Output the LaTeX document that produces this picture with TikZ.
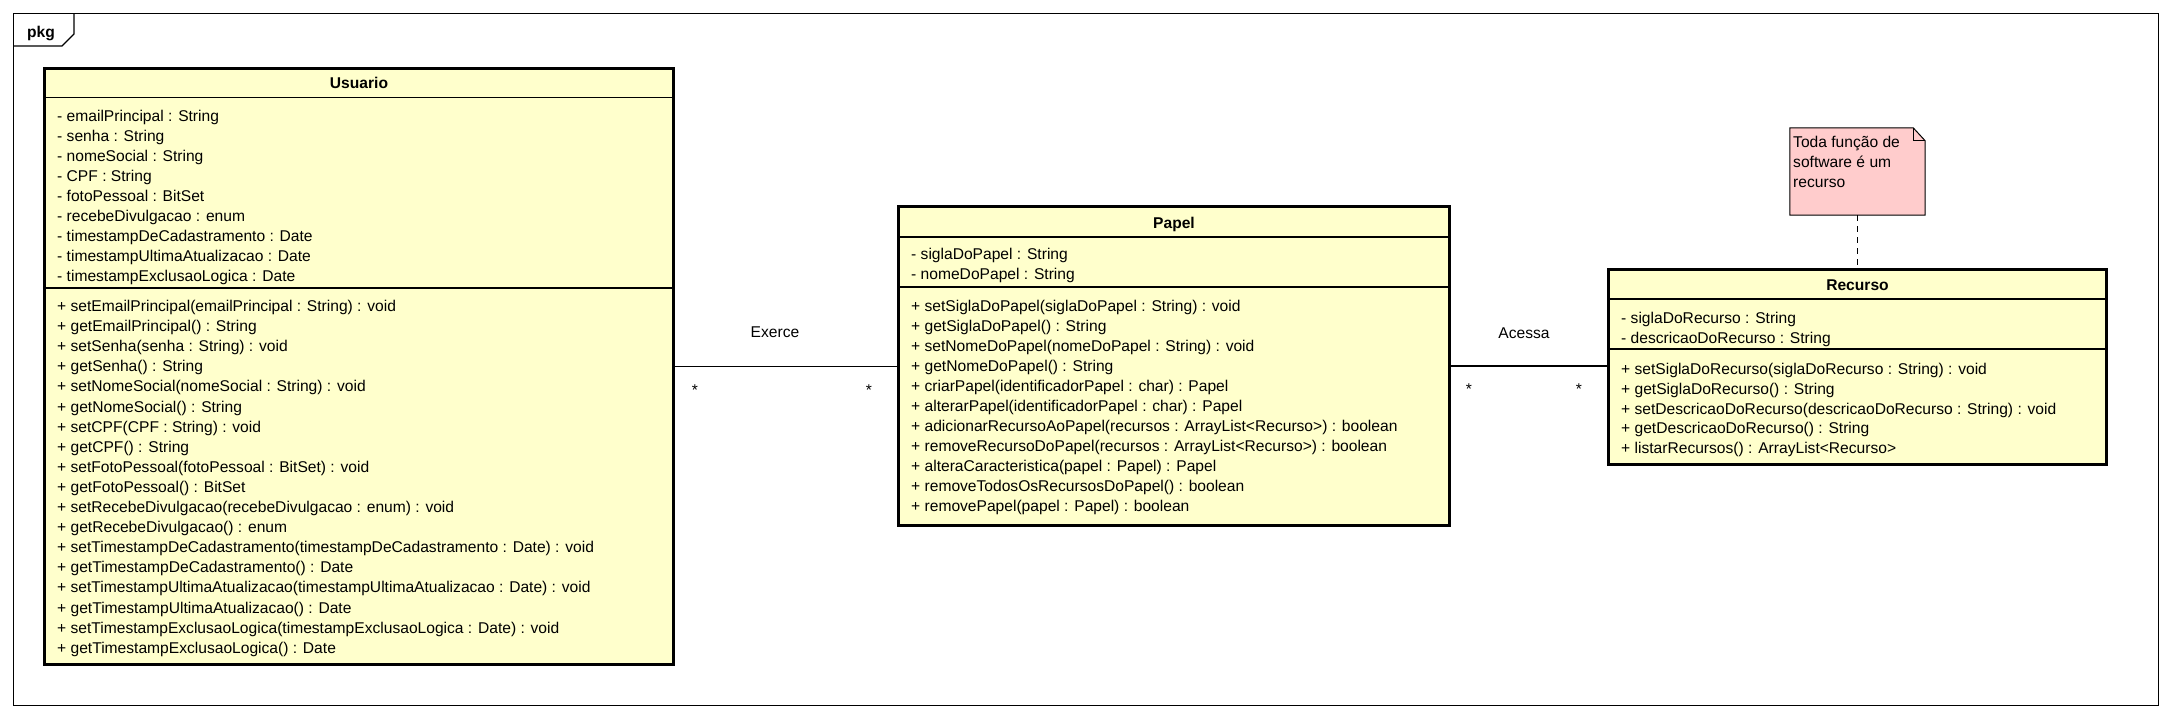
\documentclass[tikz,border=0pt]{standalone}
\usepackage{fontspec}
\setmainfont{Liberation Sans}
\definecolor{classfill}{RGB}{255,255,204}
\definecolor{notefill}{RGB}{255,204,204}
\newcommand\memberfont{\fontsize{15.6}{20}\selectfont}
\newcommand\titlefont{\fontsize{15.6}{20}\selectfont\bfseries}
\tikzset{
  classbox/.style={draw=black, fill=classfill, line width=3pt, inner sep=0pt, rectangle},
  sepline/.style={line width=1.2pt},
  member/.style={anchor=base west, inner sep=0pt, font=\memberfont},
  classtitle/.style={anchor=base, inner sep=0pt, font=\titlefont},
  assoc/.style={line width=1.2pt},
  mult/.style={anchor=center, inner sep=0pt, font=\memberfont},
  framebox/.style={line width=1.2pt},
  notebox/.style={draw=black, fill=notefill, line width=1pt},
  notelink/.style={line width=1.2pt, dash pattern=on 6pt off 5pt},
}
\begin{document}
\begin{tikzpicture}[x=1pt,y=-1pt]
\useasboundingbox (0,0) rectangle (2172,720);
% package frame
\draw[framebox] (13.5,13.5) rectangle (2158.5,705.5);
\draw[framebox] (13.5,46) -- (62,46) -- (74,34) -- (74,13.5);
\node[classtitle] (pkglabel) at (41,37) {pkg};

% ---------- Usuario ----------
\node[classbox, minimum width=629pt, minimum height=596pt] (usuario) at (359,366.5) {};
\draw[sepline] (44.5,97.5) -- (673.5,97.5);
\draw[sepline] (44.5,288) -- (673.5,288);
\node[classtitle] (usuariotitle) at (359,88.5) {Usuario};
\foreach \t [count=\i from 0] in {
  - emailPrincipal : String,
  - senha : String,
  - nomeSocial : String,
  - CPF : String,
  - fotoPessoal : BitSet,
  - recebeDivulgacao : enum,
  - timestampDeCadastramento : Date,
  - timestampUltimaAtualizacao : Date,
  - timestampExclusaoLogica : Date}
  \node[member] (ua\i) at (57,121+20*\i) {\t};
\foreach \t [count=\i from 0] in {
  + setEmailPrincipal(emailPrincipal : String) : void,
  + getEmailPrincipal() : String,
  + setSenha(senha : String) : void,
  + getSenha() : String,
  + setNomeSocial(nomeSocial : String) : void,
  + getNomeSocial() : String,
  + setCPF(CPF : String) : void,
  + getCPF() : String,
  + setFotoPessoal(fotoPessoal : BitSet) : void,
  + getFotoPessoal() : BitSet,
  + setRecebeDivulgacao(recebeDivulgacao : enum) : void,
  + getRecebeDivulgacao() : enum,
  + setTimestampDeCadastramento(timestampDeCadastramento : Date) : void,
  + getTimestampDeCadastramento() : Date,
  + setTimestampUltimaAtualizacao(timestampUltimaAtualizacao : Date) : void,
  + getTimestampUltimaAtualizacao() : Date,
  + setTimestampExclusaoLogica(timestampExclusaoLogica : Date) : void,
  + getTimestampExclusaoLogica() : Date}
  \node[member] (uo\i) at (57,311.5+20.1*\i) {\t};

% ---------- Papel ----------
\node[classbox, minimum width=551pt, minimum height=319pt] (papel) at (1174,366) {};
\draw[sepline] (898.5,237) -- (1449.5,237);
\draw[sepline] (898.5,287) -- (1449.5,287);
\node[classtitle] (papeltitle) at (1174,228) {Papel};
\foreach \t [count=\i from 0] in {
  - siglaDoPapel : String,
  - nomeDoPapel : String}
  \node[member] (pa\i) at (911,259.5+20*\i) {\t};
\foreach \t [count=\i from 0] in {
  + setSiglaDoPapel(siglaDoPapel : String) : void,
  + getSiglaDoPapel() : String,
  + setNomeDoPapel(nomeDoPapel : String) : void,
  + getNomeDoPapel() : String,
  + criarPapel(identificadorPapel : char) : Papel,
  + alterarPapel(identificadorPapel : char) : Papel,
  + adicionarRecursoAoPapel(recursos : ArrayList<Recurso>) : boolean,
  + removeRecursoDoPapel(recursos : ArrayList<Recurso>) : boolean,
  + alteraCaracteristica(papel : Papel) : Papel,
  + removeTodosOsRecursosDoPapel() : boolean,
  + removePapel(papel : Papel) : boolean}
  \node[member] (po\i) at (911,311.5+20*\i) {\t};

% ---------- Recurso ----------
\node[classbox, minimum width=498pt, minimum height=195pt] (recurso) at (1857.5,367) {};
\draw[sepline] (1608.5,299) -- (2106.5,299);
\draw[sepline] (1608.5,349) -- (2106.5,349);
\node[classtitle] (recursotitle) at (1857.5,290.5) {Recurso};
\foreach \t [count=\i from 0] in {
  - siglaDoRecurso : String,
  - descricaoDoRecurso : String}
  \node[member] (ra\i) at (1621,323+20*\i) {\t};
\foreach \t [count=\i from 0] in {
  + setSiglaDoRecurso(siglaDoRecurso : String) : void,
  + getSiglaDoRecurso() : String,
  + setDescricaoDoRecurso(descricaoDoRecurso : String) : void,
  + getDescricaoDoRecurso() : String,
  + listarRecursos() : ArrayList<Recurso>}
  \node[member] (ro\i) at (1621,374.5+19.8*\i) {\t};

% ---------- Note ----------
\node[minimum width=135pt, minimum height=87pt, inner sep=0pt] (note) at (1857.5,171.5) {};
\draw[notebox] (note.north west) -- ([xshift=-12pt]note.north east) -- ([yshift=-13pt]note.north east) -- (note.south east) -- (note.south west) -- cycle;
\draw[line width=1pt] ([xshift=-12pt]note.north east) -- ([xshift=-12pt,yshift=-13pt]note.north east) -- ([yshift=-13pt]note.north east);
\node[member] (notel1) at (1793,147) {Toda função de};
\node[member] (notel2) at (1793,167) {software é um};
\node[member] (notel3) at (1793,187) {recurso};
\draw[notelink] (note.south) -- (recurso.north);

% ---------- Associations ----------
\draw[assoc] (usuario.east) -- (usuario.east -| papel.west);
\node[mult] (exerce) at (775,332) {Exerce};
\node[mult] (m1) at (695,390) {*};
\node[mult] (m2) at (869,390) {*};

\draw[assoc] (papel.east) -- (papel.east -| recurso.west);
\node[mult] (acessa) at (1524,333) {Acessa};
\node[mult] (m3) at (1469,389) {*};
\node[mult] (m4) at (1579,389) {*};
\end{tikzpicture}
\end{document}
